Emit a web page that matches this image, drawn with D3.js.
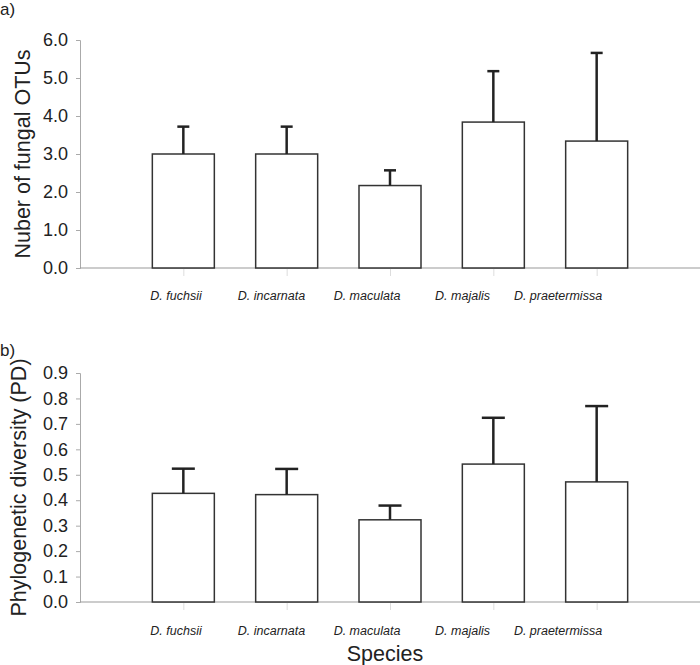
<!DOCTYPE html>
<html><head><meta charset="utf-8">
<script src="https://cdn.jsdelivr.net/npm/d3@7"></script>
<style>body{margin:0;background:#fff}svg{display:block;font-family:"Liberation Sans",Arial,sans-serif}</style>
</head><body>
<script>
const species = ["D. fuchsii","D. incarnata","D. maculata","D. majalis","D. praetermissa"];
const otuMean = [3.0, 3.0, 2.17, 3.84, 3.34];
const otuUpper = [3.72, 3.72, 2.57, 5.18, 5.66];
const pdMean = [0.427, 0.422, 0.323, 0.542, 0.472];
const pdUpper = [0.524, 0.523, 0.379, 0.724, 0.770];
const otuTicks = [0,1,2,3,4,5,6];
const pdTicks = [0,0.1,0.2,0.3,0.4,0.5,0.6,0.7,0.8,0.9];

const svg = d3.select("body").append("svg").attr("width",700).attr("height",665);
const x = d3.scalePoint().domain(species).range([80,700]).padding(1);
const xl = d3.scalePoint().domain(species).range([176,558]);
const barW = 62;

function panel(opts){
  const {y, mean, upper, ticks, fmt, title, titleX, labelY, capW, tag, tagY} = opts;
  const g = svg.append("g");
  const ya = g.append("g").attr("transform","translate(80,0)")
    .call(d3.axisLeft(y).tickValues(ticks).tickFormat(fmt).tickSize(4).tickPadding(8));
  ya.select(".domain").attr("stroke","#aaa");
  ya.selectAll(".tick line").attr("stroke","#aaa");
  ya.selectAll(".tick text").attr("font-size",18).attr("fill","#222").attr("font-family","Liberation Sans, Arial, sans-serif");
  const xa = g.append("g").attr("transform",`translate(0,${y(0)})`)
    .call(d3.axisBottom(x).tickSize(8).tickFormat(""));
  xa.select(".domain").attr("stroke","#999").attr("d",`M80,0H700`);
  xa.selectAll(".tick line").attr("stroke","#ddd");
  g.selectAll("rect.bar").data(species).join("rect")
    .attr("x",d=>x(d)-barW/2).attr("width",barW)
    .attr("y",(d,i)=>y(mean[i])).attr("height",(d,i)=>y(0)-y(mean[i]))
    .attr("fill","#fff").attr("stroke","#333").attr("stroke-width",1.5);
  g.selectAll("line.err").data(species).join("line")
    .attr("x1",d=>x(d)).attr("x2",d=>x(d))
    .attr("y1",(d,i)=>y(mean[i])).attr("y2",(d,i)=>y(upper[i]))
    .attr("stroke","#222").attr("stroke-width",2.5);
  g.selectAll("line.cap").data(species).join("line")
    .attr("x1",d=>x(d)-capW/2).attr("x2",d=>x(d)+capW/2)
    .attr("y1",(d,i)=>y(upper[i])).attr("y2",(d,i)=>y(upper[i]))
    .attr("stroke","#222").attr("stroke-width",2.5);
  g.selectAll("text.cat").data(species).join("text")
    .attr("x",d=>xl(d)).attr("y",labelY).attr("text-anchor","middle")
    .attr("font-size",12.5).attr("font-style","italic").attr("fill","#222").text(d=>d);
  const ym = (y.range()[0]+y.range()[1])/2;
  g.append("text").attr("transform",`translate(${titleX},${ym}) rotate(-90)`)
    .attr("text-anchor","middle").attr("dy","0.35em").attr("font-size",21.5).attr("fill","#222").text(title);
  svg.append("text").attr("x",0).attr("y",tagY).attr("font-size",17).attr("fill","#222").text(tag);
}

panel({y:d3.scaleLinear().domain([0,6]).range([268,40]), mean:otuMean, upper:otuUpper, ticks:otuTicks,
  fmt:d3.format(".1f"), title:"Nuber of fungal OTUs", titleX:22, labelY:300, capW:12, tag:"a)", tagY:15});
panel({y:d3.scaleLinear().domain([0,0.9]).range([602,373]), mean:pdMean, upper:pdUpper, ticks:pdTicks,
  fmt:d3.format(".1f"), title:"Phylogenetic diversity (PD)", titleX:18, labelY:635, capW:23, tag:"b)", tagY:356});

svg.append("text").attr("x",385).attr("y",661).attr("text-anchor","middle").attr("font-size",21.5).attr("fill","#222").text("Species");
</script>
</body></html>
